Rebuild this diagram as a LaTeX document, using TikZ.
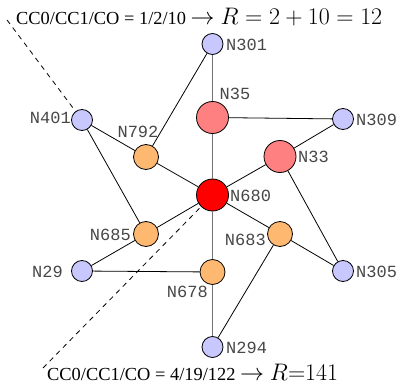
\RequirePackage{fix-cm}
\documentclass[tikz,border=0pt]{standalone}
\usepackage{graphicx}
\usepackage{fontspec}
\setmainfont{Liberation Serif}
\setmonofont{Liberation Mono}
\newcommand{\capmathbox}[1]{\scalebox{1.3}{#1}}
\begin{document}
\begin{tikzpicture}[x=1pt,y=-1pt,
  vtx/.style={circle,draw=black,line width=0.8pt,inner sep=0pt},
  blue/.style={vtx,fill={rgb,255:red,200;green,200;blue,255},minimum size=21pt},
  orng/.style={vtx,fill={rgb,255:red,255;green,184;blue,112},minimum size=25pt},
  pink/.style={vtx,fill={rgb,255:red,255;green,128;blue,128},minimum size=32pt},
  redd/.style={vtx,fill=red,minimum size=32pt},
  lab/.style={inner sep=0pt,font=\fontsize{17}{17}\selectfont\ttfamily,text=black!72},
  edge/.style={line width=0.8pt,draw=black},
  gedge/.style={line width=1.2pt,draw=black!55},
  dsh/.style={line width=0.8pt,dash pattern=on 5pt off 4.5pt},
  captext/.style={inner sep=0pt,anchor=base west,font=\fontsize{18.4}{20}\selectfont}]
\useasboundingbox (0,0) rectangle (399,385);
\node[blue] (n301) at (212.5,44) {};
\node[pink] (n35) at (212.5,117.5) {};
\node[blue] (n309) at (343,119) {};
\node[blue] (n401) at (82,120) {};
\node[orng] (n792) at (146,157) {};
\node[pink] (n33) at (280,156.5) {};
\node[redd] (n680) at (212.5,195) {};
\node[orng] (n685) at (146,234) {};
\node[orng] (n683) at (280,234) {};
\node[blue] (n29) at (82,271) {};
\node[orng] (n678) at (212.5,272) {};
\node[blue] (n305) at (343,271) {};
\node[blue] (n294) at (212.5,347) {};
\draw[gedge] (n301) -- (n35);
\draw[gedge] (n35) -- (n680);
\draw[gedge] (n680) -- (n678);
\draw[gedge] (n678) -- (n294);
\draw[edge] (n301) -- (n792);
\draw[edge] (n35) -- (n309);
\draw[edge] (n309) -- (n33);
\draw[edge] (n401) -- (n792);
\draw[edge] (n401) -- (n685);
\draw[edge] (n792) -- (n680);
\draw[edge] (n33) -- (n680);
\draw[edge] (n33) -- (n305);
\draw[edge] (n680) -- (n685);
\draw[edge] (n680) -- (n683);
\draw[edge] (n685) -- (n29);
\draw[edge] (n29) -- (n678);
\draw[edge] (n683) -- (n294);
\draw[edge] (n683) -- (n305);
\coordinate (tl) at (7,20);
\coordinate (bl) at (43,368);
\draw[dsh] (tl) -- (n401);
\draw[dsh] (bl) -- (n680);
% labels
\node[lab,anchor=west] (l301) at (226,44.5) {N301};
\node[lab] (l35) at (235,94) {N35};
\node[lab,anchor=west] (l309) at (356,120) {N309};
\node[lab,anchor=east] (l401) at (71,118) {N401};
\node[lab] (l792) at (138,132) {N792};
\node[lab,anchor=west] (l33) at (298,157) {N33};
\node[lab,anchor=west] (l680) at (230,196) {N680};
\node[lab,anchor=east] (l685) at (131,235) {N685};
\node[lab,anchor=east] (l683) at (266,240) {N683};
\node[lab,anchor=east] (l29) at (63,271.5) {N29};
\node[lab,anchor=east] (l678) at (208,292) {N678};
\node[lab,anchor=west] (l305) at (356,271.5) {N305};
\node[lab,anchor=west] (l294) at (226,347.5) {N294};
\node[captext] (top) at (16,24.5) {CC0/CC1/CO = 1/2/10 \capmathbox{$\rightarrow$ $R = 2 + 10 = 12$}};
\node[captext] (bot) at (47,380) {CC0/CC1/CO = 4/19/122 \capmathbox{$\rightarrow$ $R{=}141$}};
\end{tikzpicture}
\end{document}
